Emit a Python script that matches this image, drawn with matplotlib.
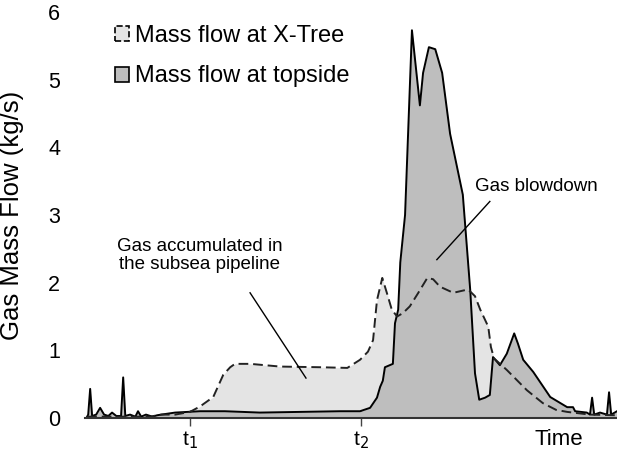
import matplotlib
matplotlib.use("Agg")
import matplotlib.pyplot as plt
from matplotlib.patches import Patch

plt.rcParams['font.family'] = ['Liberation Sans', 'DejaVu Sans']

# Time axis in arbitrary units (0-100)
t_topside = [0, 0.2, 0.57, 0.94, 1.7, 2.45, 3.2, 4.0, 4.7, 5.5, 6.4, 6.8, 7.2, 8.1, 9.1, 9.6,
             10.2, 11.1, 12.3, 13.2, 14.0, 16.6, 21.3, 26.0, 32.6, 40.2, 47.7, 51.5, 53.4,
             54.7, 55.3, 55.8, 56.2, 57.7, 58.1, 58.7, 59.1, 60.0, 61.3, 62.8, 63.4, 64.5,
             65.7, 67.0, 68.5, 70.9, 72.3, 73.2, 74.0, 75.1, 76.0, 76.6, 77.9, 79.2, 80.6,
             81.3, 82.3, 84.2, 87.4, 90.6, 91.7, 92.1, 94.3, 94.9, 95.3, 95.7, 96.8, 98.1,
             98.5, 98.9, 100]
flow_topside = [0.02, 0.05, 0.43, 0.03, 0.05, 0.15, 0.05, 0.03, 0.08, 0.03, 0.03, 0.6, 0.03,
                0.05, 0.02, 0.1, 0.02, 0.05, 0.02, 0.04, 0.05, 0.08, 0.1, 0.1, 0.08, 0.09,
                0.1, 0.1, 0.15, 0.3, 0.46, 0.55, 0.75, 0.8, 1.4, 1.6, 2.3, 3.0, 5.73, 4.62,
                5.1, 5.48, 5.45, 5.1, 4.2, 3.3, 1.89, 0.66, 0.27, 0.3, 0.34, 0.9, 0.78, 0.95,
                1.25, 1.1, 0.86, 0.68, 0.31, 0.16, 0.16, 0.1, 0.08, 0.05, 0.3, 0.05, 0.08,
                0.05, 0.38, 0.05, 0.1]

t_xtree = [0, 6.2, 11.9, 14.0, 16.6, 19.4, 21.3, 23.8, 25.7, 27.0, 27.9, 30.8, 36.4, 43.96,
           49.1, 51.5, 53.0, 53.96, 54.7, 55.7, 56.6, 57.5, 58.5, 59.6, 60.9, 62.5, 64.2,
           65.3, 66.6, 69.1, 71.9, 73.2, 74.2, 75.7, 76.2, 76.8, 79.2, 83.0, 86.0, 88.5,
           90.6, 94.9, 100]
flow_xtree = [0.02, 0.02, 0.02, 0.05, 0.05, 0.09, 0.17, 0.31, 0.64, 0.75, 0.8, 0.8, 0.76,
              0.75, 0.74, 0.86, 0.98, 1.15, 1.74, 2.07, 1.84, 1.6, 1.5, 1.55, 1.65, 1.85,
              2.07, 2.05, 1.94, 1.85, 1.9, 1.8, 1.6, 1.35, 1.05, 0.88, 0.71, 0.41, 0.22,
              0.12, 0.09, 0.05, 0.04]

tick_positions = [19.4, 51.7]
tick_labels = ['t$_1$', 't$_2$']
y_ticks = [0, 1, 2, 3, 4, 5, 6]

light = '#e4e4e4'
dark = '#bebebe'

fig = plt.figure(figsize=(6.17, 4.61), dpi=100)
ax = fig.add_axes([0.1378, 0.0933, 0.8622, 0.8807])

ax.fill_between(t_xtree, 0, flow_xtree, color=light, lw=0, zorder=1)
ax.fill_between(t_topside, 0, flow_topside, color=dark, lw=0, zorder=2)
ax.plot(t_topside, flow_topside, color='black', lw=1.4, zorder=3)
ax.plot(t_xtree, flow_xtree, color='#222222', lw=1.4, ls=(0, (5, 2.5)), zorder=4)

ax.set_xlim(-0.4, 100)
ax.set_ylim(0, 6)
for s in ['top', 'right', 'left']:
    ax.spines[s].set_visible(False)
ax.spines['bottom'].set_color('#333333')
ax.spines['bottom'].set_linewidth(1.5)
ax.spines['bottom'].set_zorder(5)

ax.set_xticks(tick_positions)
ax.set_xticklabels(tick_labels, fontsize=15)
ax.tick_params(axis='x', direction='inout', length=12, width=1, color='#444444', pad=2)
ax.set_yticks(y_ticks)
ax.set_yticklabels([str(v) for v in y_ticks], fontsize=15.5)
ax.tick_params(axis='y', length=0, pad=18)
ax.set_ylabel('Gas Mass Flow (kg/s)', fontsize=18.5)
ax.yaxis.set_label_coords(-0.115, 0.5)

ax.text(89.1, -0.17, 'Time', fontsize=16, ha='center', va='top')

ax.text(21.2, 2.40, 'Gas accumulated in\nthe subsea pipeline', fontsize=13.5,
        ha='center', va='center', linespacing=1.1)
ax.plot([30.75, 41.3], [1.85, 0.59], color='black', lw=1, zorder=6)
ax.text(73.2, 3.42, 'Gas blowdown', fontsize=13.5, ha='left', va='center')
ax.plot([76.0, 66.0], [3.2, 2.34], color='black', lw=1, zorder=6)

handles = [Patch(facecolor=light, edgecolor='black', linestyle='--', lw=1.2),
           Patch(facecolor=dark, edgecolor='black', lw=1.2)]
fig.legend(handles, ['Mass flow at X-Tree', 'Mass flow at topside'], loc='upper left',
           bbox_to_anchor=(115 / 617, 1 - 25 / 461), frameon=False, fontsize=17,
           handlelength=0.6, handleheight=0.6, handletextpad=0.25, labelspacing=0.78,
           borderpad=0, borderaxespad=0)

fig.savefig('out.png', dpi=100)
